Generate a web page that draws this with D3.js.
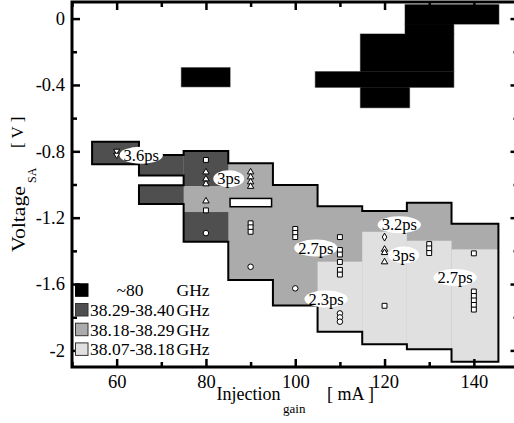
<!DOCTYPE html>
<html>
<head>
<meta charset="utf-8">
<script src="https://cdn.jsdelivr.net/npm/d3@7"></script>
<style>
  body { margin: 0; background: #fff; }
  svg { display: block; }
</style>
</head>
<body>
<main></main>
<script>
// Axes
const xTicks = [60, 80, 100, 120, 140]
const xMinor = [50, 70, 90, 110, 130, 150]
const yTicks = [0, -0.4, -0.8, -1.2, -1.6, -2]
const yMinor = [-0.2, -0.6, -1, -1.4, -1.8]

// Legend
const bandNames = ['~80', '38.29-38.40', '38.18-38.29', '38.07-38.18']

// Cells, [mA from, mA to, V top, V bottom]
const cells80 = [
    [74.5, 85.4, -0.296, -0.411],
    [124.6, 145.6, 0.084, -0.033],
    [124.6, 135.5, -0.033, -0.093],
    [114.6, 135.5, -0.093, -0.320],
    [104.5, 135.5, -0.320, -0.414],
    [114.6, 125.6, -0.414, -0.537]
]
const cellsHigh = [
    [54.5, 65, -0.742, -0.878],
    [65, 75, -0.822, -0.946],
    [65, 75, -1.005, -1.118],
    [75, 85, -0.798, -1.009],
    [75, 85, -1.166, -1.345]
]
const cellsLow = [
    [105, 115, -1.465, -1.887],
    [115, 125, -1.285, -1.963],
    [125, 135, -1.339, -1.993],
    [135, 145.5, -1.391, -2.068]
]

// Border of the locking region, [mA, V]; inside it is the 38.18-38.29 band
const regionEdge = [
    [54.5, -0.742], [65, -0.742], [65, -0.822], [75, -0.822], [75, -0.798],
    [85, -0.798], [85, -0.872], [95, -0.872], [95, -1.003], [105, -1.003],
    [105, -1.131], [115, -1.131], [115, -1.159], [125, -1.159], [125, -1.110],
    [135, -1.110], [135, -1.236], [145.5, -1.236], [145.5, -2.068], [135, -2.068],
    [135, -1.993], [125, -1.993], [125, -1.963], [115, -1.963], [115, -1.887],
    [105, -1.887], [105, -1.729], [95, -1.729], [95, -1.576], [85, -1.576],
    [85, -1.345], [75, -1.345], [75, -1.118], [65, -1.118], [65, -1.005],
    [75, -1.005], [75, -0.946], [65, -0.946], [65, -0.878], [54.5, -0.878]
]
const regionHole = [85.4, 94.7, -1.084, -1.134]

// Measured points, [mA, V]
const pointsSquare = [
    [80, -0.852], [80, -1.156], [90, -1.234], [90, -1.258], [90, -1.285],
    [100, -1.268], [100, -1.292], [100, -1.317],
    [110, -1.317], [110, -1.395], [110, -1.422], [110, -1.467], [110, -1.515], [110, -1.543],
    [120, -1.731], [130, -1.359], [130, -1.385], [130, -1.413],
    [140, -1.415], [140, -1.645], [140, -1.672], [140, -1.699], [140, -1.726], [140, -1.754]
]
const pointsTriangle = [
    [80, -0.925], [80, -0.967], [80, -0.997], [80, -1.100],
    [90, -0.925], [90, -0.955], [90, -0.985], [90, -1.012],
    [120, -1.391], [120, -1.411], [120, -1.467]
]
const pointsTriangleDown = [[60, -0.798], [60, -0.822]]
const pointsCircle = [[80, -1.293], [90, -1.496], [100, -1.626], [110, -1.777], [110, -1.801], [110, -1.827]]
const pointsDiamond = [[120, -1.317]]

// Pulse widths
const pulseText = ['3.6ps', '3ps', '2.7ps', '3.2ps', '3ps', '2.7ps', '2.3ps']
const pulseX = [65.5, 85.1, 104.6, 123.3, 124.3, 135.8, 106.9]
const pulseV = [-0.823, -0.965, -1.383, -1.242, -1.425, -1.561, -1.69]

function GeneratePlot() {
    // Configuration
    const total_width = 514
    const height = 423
    const frame = {left: 72, top: 2, right: 518.5, bottom: 367}
    const colors = ['#000000', '#4f4f4f', '#ababab', '#e0e0e0']
    const serif = "'Liberation Serif'"

    const x = d3.scaleLinear().domain([50, 150]).range([frame.left, frame.right])
    const y = d3.scaleLinear().domain([-2.1, 0.1]).range([frame.bottom, frame.top])

    const svg = d3.select('main')
        .append('svg')
        .attr('width', total_width)
        .attr('height', height)
        .style('font-family', serif)

    // Cells
    const cells = (selection, data, fill) => {
        selection.selectAll('rect')
            .data(data)
            .enter()
            .append('rect')
            .attr('x', d => x(d[0]))
            .attr('y', d => y(d[2]))
            .attr('width', d => x(d[1]) - x(d[0]))
            .attr('height', d => y(d[3]) - y(d[2]))
            .attr('fill', fill)
    }

    const plot = svg.append('g')

    // ~80 GHz: grey edge under, black on top
    plot.append('g')
        .attr('stroke', '#888')
        .attr('stroke-width', 1.2)
        .call(cells, cells80, colors[0])
    plot.append('g').call(cells, cells80, colors[0])

    const line = d3.line().x(d => x(d[0])).y(d => y(d[1]))
    plot.append('path')
        .attr('d', line(regionEdge) + 'Z')
        .attr('fill', colors[2])
    plot.append('g').call(cells, cellsHigh, colors[1])
    plot.append('g').call(cells, cellsLow, colors[3])
    plot.append('g')
        .attr('stroke', 'black')
        .attr('stroke-width', 1.5)
        .call(cells, [regionHole], 'white')
    plot.append('path')
        .attr('d', line(regionEdge) + 'Z')
        .attr('fill', 'none')
        .attr('stroke', 'black')
        .attr('stroke-width', 2)

    // Points
    const points = (data, type, size, angle = 0) => {
        plot.append('g')
            .selectAll('path')
            .data(data)
            .enter()
            .append('path')
            .attr('d', d3.symbol().type(type).size(size))
            .attr('transform', d => `translate(${x(d[0])},${y(d[1])}) rotate(${angle})`)
            .attr('fill', 'white')
            .attr('stroke', 'black')
            .attr('stroke-width', 1)
    }
    points(pointsSquare, d3.symbolSquare, 24)
    points(pointsTriangle, d3.symbolTriangle, 18)
    points(pointsTriangleDown, d3.symbolTriangle, 16, 180)
    points(pointsCircle, d3.symbolCircle, 24)
    points(pointsDiamond, d3.symbolDiamond, 18)

    // Pulse width labels
    const tags = plot.append('g')
        .selectAll('g')
        .data(pulseText)
        .enter()
        .append('g')
        .attr('transform', (d, i) => `translate(${x(pulseX[i])},${y(pulseV[i])})`)
    tags.append('ellipse').attr('fill', 'white').attr('ry', 8.5)
    tags.append('text')
        .text(d => d)
        .attr('text-anchor', 'middle')
        .attr('dy', '0.35em')
        .attr('font-size', 16.5)
    tags.each(function () {
        const w = d3.select(this).select('text').node().getComputedTextLength()
        d3.select(this).select('ellipse').attr('rx', w / 2 + 4)
    })

    // Axes
    const style = (g, size) => {
        g.select('.domain').remove()
        g.selectAll('line').attr('stroke-width', 2.5)
        g.attr('font-size', size).style('font-family', serif)
    }
    const fmt = d => String(d)
    svg.append('g').attr('transform', `translate(0,${frame.bottom})`)
        .call(d3.axisBottom(x).tickValues(xTicks).tickSize(-8).tickPadding(7.5).tickFormat(d3.format('d')))
        .call(style, 18.5)
    svg.append('g').attr('transform', `translate(0,${frame.bottom})`)
        .call(d3.axisBottom(x).tickValues(xMinor).tickSize(-5).tickFormat(''))
        .call(style, 18)
    svg.append('g').attr('transform', `translate(0,${frame.top})`)
        .call(d3.axisTop(x).tickValues(xTicks).tickSize(-8).tickFormat(''))
        .call(style, 18)
    svg.append('g').attr('transform', `translate(0,${frame.top})`)
        .call(d3.axisTop(x).tickValues(xMinor).tickSize(-5).tickFormat(''))
        .call(style, 18)
    svg.append('g').attr('transform', `translate(${frame.left},0)`)
        .call(d3.axisLeft(y).tickValues(yTicks).tickSize(-8).tickPadding(7).tickFormat(fmt))
        .call(style, 18.5)
    svg.append('g').attr('transform', `translate(${frame.left},0)`)
        .call(d3.axisLeft(y).tickValues(yMinor).tickSize(-5).tickFormat(''))
        .call(style, 18)
    svg.append('g').attr('transform', `translate(${frame.right},0)`)
        .call(d3.axisRight(y).tickValues(yTicks).tickSize(-8).tickFormat(''))
        .call(style, 18)
    svg.append('g').attr('transform', `translate(${frame.right},0)`)
        .call(d3.axisRight(y).tickValues(yMinor).tickSize(-5).tickFormat(''))
        .call(style, 18)

    svg.append('rect')
        .attr('x', frame.left)
        .attr('y', frame.top)
        .attr('width', frame.right - frame.left)
        .attr('height', frame.bottom - frame.top)
        .attr('fill', 'none')
        .attr('stroke', 'black')
        .attr('stroke-width', 3)

    // Titles
    const xTitle = svg.append('g').attr('font-size', 18)
    xTitle.append('text').attr('x', 216.5).attr('y', 400).text('Injection')
    xTitle.append('text').attr('x', 283).attr('y', 413).attr('font-size', 13).text('gain')
    xTitle.append('text').attr('x', 327).attr('y', 400).text('[ mA ]')

    const yTitle = svg.append('g')
        .attr('transform', 'translate(25,252) rotate(-90)')
    yTitle.append('text')
        .attr('font-size', 19)
        .attr('textLength', 66)
        .attr('lengthAdjust', 'spacingAndGlyphs')
        .text('Voltage')
    yTitle.append('text').attr('x', 69).attr('y', 11).attr('font-size', 12).text('SA')
    yTitle.append('text').attr('x', 104).attr('y', -2).attr('font-size', 17).text('[ V ]')

    // Legend
    const legend = svg.append('g')
        .attr('transform', 'translate(75,283.3)')
        .selectAll('g')
        .data(bandNames)
        .enter()
        .append('g')
        .attr('transform', (d, i) => `translate(0,${i * 19.7})`)
    legend.append('rect')
        .attr('x', 0.5)
        .attr('y', 0.5)
        .attr('width', 12.5)
        .attr('height', 12.5)
        .attr('fill', (d, i) => colors[i])
        .attr('stroke', (d, i) => i ? '#333' : 'black')
        .attr('stroke-width', 1)
    legend.append('text')
        .attr('x', (d, i) => i ? 15 : 55)
        .attr('y', 13)
        .attr('text-anchor', (d, i) => i ? 'start' : 'middle')
        .attr('font-size', 17.5)
        .text(d => d)
    legend.append('text')
        .attr('x', 101.5)
        .attr('y', 13)
        .attr('font-size', 17.5)
        .text('GHz')
}

GeneratePlot()
</script>
</body>
</html>
